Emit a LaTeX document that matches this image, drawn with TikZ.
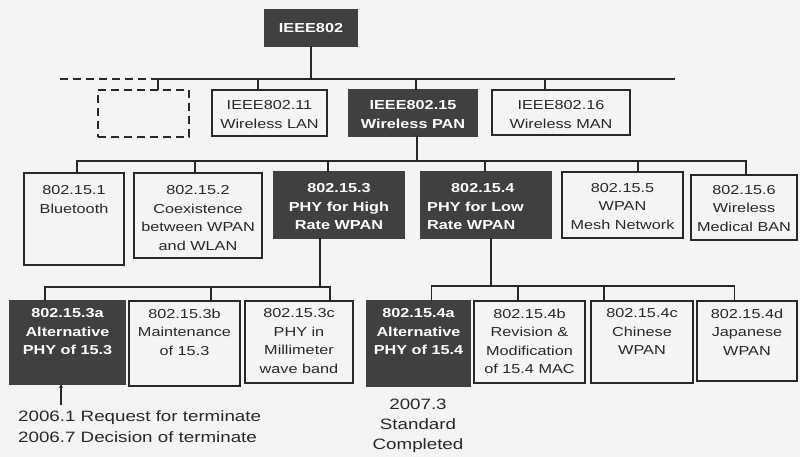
\documentclass[tikz,border=0pt]{standalone}
\usepackage{fontspec}
\setmainfont{Liberation Sans}[FakeStretch=1.25]
\usetikzlibrary{arrows.meta}
\definecolor{darkbox}{RGB}{64,64,64}
\definecolor{bg}{RGB}{244,244,244}
\definecolor{ink}{RGB}{40,40,40}
\newcommand\bx[6]{\node[#6, minimum width={(#4-#2)*1pt}, minimum height={(#5-#3)*1pt}] (#1) at ({(#2+#4)/2},{(#3+#5)/2}) {};}
\tikzset{
  wbox/.style={draw=ink, line width=1.8pt, inner sep=0pt, outer sep=0pt, rectangle},
  dbox/.style={draw=darkbox, fill=darkbox, line width=1.8pt, inner sep=0pt, outer sep=0pt, rectangle},
  dashbox/.style={draw=ink, line width=1.8pt, dash pattern=on 8pt off 5pt, inner sep=0pt, outer sep=0pt, rectangle},
  conn/.style={draw=ink, line width=1.8pt},
  txt/.style={inner sep=0pt, anchor=north, align=center, text=ink, font=\fontsize{13}{18.5}\selectfont},
  dtxt/.style={txt, text=white, font=\fontsize{13}{18.5}\selectfont\bfseries},
  note/.style={inner sep=0pt, text=ink, font=\fontsize{15}{21}\selectfont}
}
\begin{document}
\begin{tikzpicture}[x=1pt,y=-1pt]
\fill[bg] (0,0) rectangle (800,457);
\useasboundingbox (0,0) rectangle (800,457);
% boxes
\bx{ieee}{265}{10}{357}{46}{dbox}
\bx{dash}{98}{90}{189}{137}{dashbox}
\bx{w11}{212}{90}{327}{136}{wbox}
\bx{w15}{349}{90}{477}{136}{dbox}
\bx{w16}{492}{90}{630}{135}{wbox}
\bx{b1}{24}{173}{124}{265}{wbox}
\bx{b2}{134}{173}{262}{258}{wbox}
\bx{b3}{274}{172}{404}{238}{dbox}
\bx{b4}{421}{172}{551}{238}{dbox}
\bx{b5}{562}{172}{683}{238}{wbox}
\bx{b6}{691}{175}{797}{240}{wbox}
\bx{c3a}{10}{301}{125}{384}{dbox}
\bx{c3b}{129}{301}{240}{386}{wbox}
\bx{c3c}{245}{301}{353}{383}{wbox}
\bx{c4a}{367}{301}{470}{386}{dbox}
\bx{c4b}{474}{301}{585}{383}{wbox}
\bx{c4c}{591}{301}{693}{383}{wbox}
\bx{c4d}{697}{301}{797}{381}{wbox}
% texts
\node[dtxt] (tieee) at ([yshift=-13pt]ieee.north) {IEEE802};
\node[txt] (tw11) at ([yshift=-10.5pt]w11.north) {IEEE802.11\\Wireless LAN};
\node[dtxt] (tw15) at ([yshift=-10.5pt]w15.north) {IEEE802.15\\Wireless PAN};
\node[txt] (tw16) at ([yshift=-10.5pt]w16.north) {IEEE802.16\\Wireless MAN};
\node[txt] (tb1) at ([yshift=-12.5pt]b1.north) {802.15.1\\Bluetooth};
\node[txt] (tb2) at ([yshift=-12.5pt]b2.north) {802.15.2\\Coexistence\\between WPAN\\and WLAN};
\node[dtxt] (tb3) at ([yshift=-11.5pt]b3.north) {802.15.3\\PHY for High\\Rate WPAN};
\node[dtxt, anchor=north west, align=left] (tb4) at ([xshift=6pt,yshift=-11.5pt]b4.north west) {\hspace*{24pt}802.15.4\\PHY for Low\\Rate WPAN};
\node[txt] (tb5) at ([yshift=-11pt]b5.north) {802.15.5\\WPAN\\Mesh Network};
\node[txt] (tb6) at ([yshift=-10pt]b6.north) {802.15.6\\Wireless\\Medical BAN};
\node[dtxt] (tc3a) at ([yshift=-7.5pt]c3a.north) {802.15.3a\\Alternative\\PHY of 15.3};
\node[txt] (tc3b) at ([yshift=-7.5pt]c3b.north) {802.15.3b\\Maintenance\\of 15.3};
\node[txt] (tc3c) at ([yshift=-7.5pt]c3c.north) {802.15.3c\\PHY in\\Millimeter\\wave band};
\node[dtxt] (tc4a) at ([yshift=-7.5pt]c4a.north) {802.15.4a\\Alternative\\PHY of 15.4};
\node[txt] (tc4b) at ([yshift=-7.5pt]c4b.north) {802.15.4b\\Revision \&\\Modification\\of 15.4 MAC};
\node[txt] (tc4c) at ([yshift=-7.5pt]c4c.north) {802.15.4c\\Chinese\\WPAN};
\node[txt] (tc4d) at ([yshift=-7.5pt]c4d.north) {802.15.4d\\Japanese\\WPAN};
% notes
\node[note, anchor=north west, align=left] (n1) at (18,410.5) {2006.1 Request for terminate\\2006.7 Decision of terminate};
\node[note, anchor=north, align=center, font=\fontsize{15}{20}\selectfont] (n2) at (418,398.5) {2007.3\\Standard\\Completed};
% level 1 bus
\coordinate (bus1D) at (60,79);
\coordinate (bus1L) at (155,79);
\coordinate (bus1R) at (675,79);
\draw[conn, dash pattern=on 8pt off 5pt] (bus1D) -- (bus1L);
\draw[conn] (bus1L) -- (bus1R);
\draw[conn] (ieee.south) -- (ieee.south |- bus1L);
\draw[conn] ([xshift=14.5pt]dash.north) -- ([xshift=14.5pt]dash.north |- bus1L);
\draw[conn] ([xshift=-11.5pt]w11.north) -- ([xshift=-11.5pt]w11.north |- bus1L);
\draw[conn] ([xshift=3pt]w15.north) -- ([xshift=3pt]w15.north |- bus1L);
\draw[conn] ([xshift=-16pt]w16.north) -- ([xshift=-16pt]w16.north |- bus1L);
% level 2 bus
\coordinate (bus2) at (0,161);
\draw[conn] ([xshift=3pt]b1.north) -- ([xshift=3pt]b1.north |- bus2) -- ([xshift=2pt]b6.north |- bus2) -- ([xshift=2pt]b6.north);
\draw[conn] ([xshift=4pt]w15.south) -- ([xshift=4pt]w15.south |- bus2);
\draw[conn] ([xshift=-3pt]b2.north) -- ([xshift=-3pt]b2.north |- bus2);
\draw[conn] ([xshift=-11pt]b3.north) -- ([xshift=-11pt]b3.north |- bus2);
\draw[conn] ([xshift=-1pt]b4.north) -- ([xshift=-1pt]b4.north |- bus2);
\draw[conn] ([xshift=15.5pt]b5.north) -- ([xshift=15.5pt]b5.north |- bus2);
% level 3 bus (802.15.3)
\coordinate (bus3) at (0,287);
\draw[conn] ([xshift=-22.5pt]c3a.north) -- ([xshift=-22.5pt]c3a.north |- bus3) -- ([xshift=31pt]c3c.north |- bus3) -- ([xshift=31pt]c3c.north);
\draw[conn] ([xshift=-19pt]b3.south) -- ([xshift=-19pt]b3.south |- bus3);
\draw[conn] ([xshift=26.5pt]c3b.north) -- ([xshift=26.5pt]c3b.north |- bus3);
% level 3 bus (802.15.4)
\coordinate (bus4) at (0,286);
\draw[conn] ([xshift=13pt]c4a.north) -- ([xshift=13pt]c4a.north |- bus4) -- ([xshift=-12.5pt]c4d.north |- bus4) -- ([xshift=-12.5pt]c4d.north);
\draw[conn] ([xshift=5pt]b4.south) -- ([xshift=5pt]b4.south |- bus4);
\draw[conn] ([xshift=-11.5pt]c4b.north) -- ([xshift=-11.5pt]c4b.north |- bus4);
\draw[conn] ([xshift=-38pt]c4c.north) -- ([xshift=-38pt]c4c.north |- bus4);
% arrow
\coordinate (arr) at (61,405);
\draw[conn, line width=1.4pt, -{Stealth[length=4pt,width=4pt]}] (arr) -- (arr |- c3a.south);
\end{tikzpicture}
\end{document}
